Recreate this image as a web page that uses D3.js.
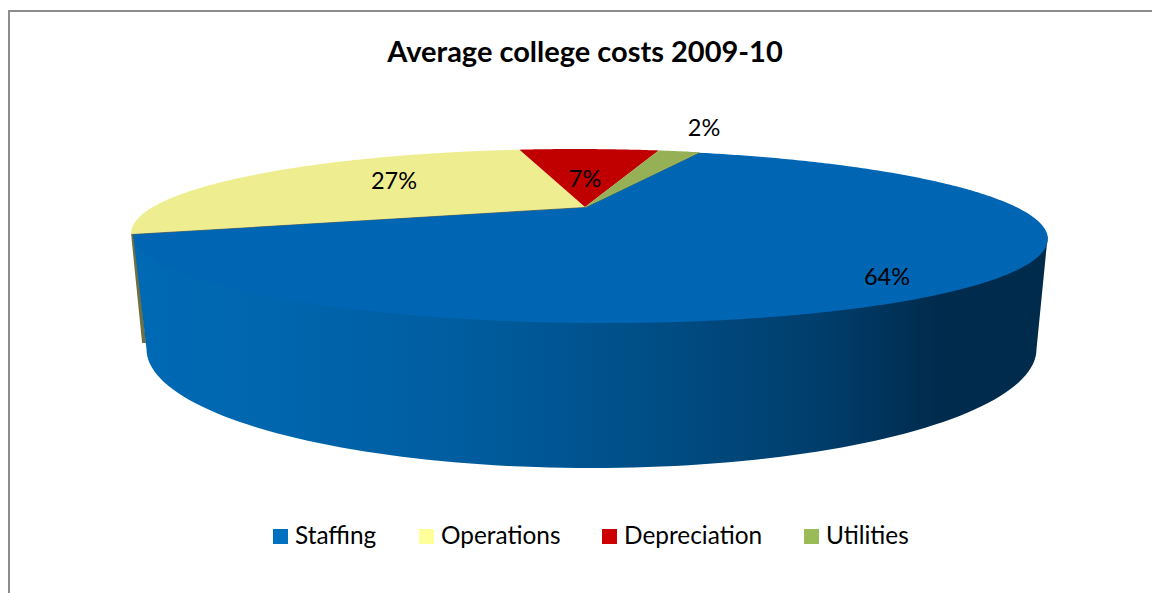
<!DOCTYPE html>
<html><head><meta charset="utf-8">
<script src="https://cdn.jsdelivr.net/npm/d3@7/dist/d3.min.js"></script>
<style>html,body{margin:0;padding:0;background:#fff}svg{display:block}text{font-family:Lato,"Open Sans",sans-serif;fill:#000}</style>
</head><body><svg id="c" width="1152" height="593"></svg>
<script>
const categories = ["Staffing","Operations","Depreciation","Utilities"];
const shares = [63.86,27.3,6.85,1.99];
const topColors = ["#0066b3","#eeee91","#c00000","#96b056"];
const legendColors = ["#0070c0","#ffff99","#cc0000","#9bbb59"];
const cutColors = [null,"#6f6f3f",null,"#6b8a3a"];
const wallStops = [[0,"#0069b5"],[0.15,"#0066ae"],[0.35,"#005da0"],[0.55,"#004f88"],[0.75,"#003e6c"],[0.88,"#002b4d"],[1,"#002b4b"]];
const legendX = [273,419,602,804];
const labelPos = [[887,277],[394,181],[585,179],[704,128]];

const svg = d3.select("#c");
const W=1152,H=593;
svg.append("path").attr("d",`M9,${H} V11 H${W}`).attr("fill","none").attr("stroke","#8c8c8c").attr("stroke-width",2);
svg.append("text").attr("x",585).attr("y",62).attr("text-anchor","middle").attr("font-weight",700).attr("font-size",29).text("Average college costs 2009-10");

const apex={x:585,y:207}, k=1/3, a=432, b=77.3, s=12;
const proj=(t,dx=0,dy=0,r=1)=>{const u=r*Math.sin(t),v=-r*Math.cos(t),w=1-k*v;
  return [apex.x+dx+(a*u+s*v)/w, apex.y+dy+b*v/w];};
const line=d3.line();
const pie=d3.pie().sort(null).value(d=>d).startAngle(21.8*Math.PI/180).endAngle((21.8+360)*Math.PI/180);
const arcs=pie(shares);
const sector=(d,dx=0,dy=0,r=1)=>{const pts=[[apex.x+dx,apex.y+dy]];
  const n=Math.ceil((d.endAngle-d.startAngle)/0.01);
  d3.range(n+1).forEach(i=>pts.push(proj(d.startAngle+(d.endAngle-d.startAngle)*i/n,dx,dy,r)));
  return line(pts)+"Z";};

const defs=svg.append("defs");
const g=defs.append("linearGradient").attr("id","wall").attr("gradientUnits","userSpaceOnUse").attr("x1",133).attr("x2",1048).attr("y1",0).attr("y2",0);
wallStops.forEach(d=>g.append("stop").attr("offset",d[0]).attr("stop-color",d[1]));

const bot={cx:591.5,cy:349,rx:445,ry:119};
const botPt=t=>[bot.cx+bot.rx*Math.sin(t),bot.cy-bot.ry*Math.cos(t)];
const blue=arcs[0];
const tEnd=blue.endAngle;
const BDX=1,BDY=0.5,BR=0.998;
const rimRight=proj(1.91,BDX,BDY,BR);
const rimLeft=proj(tEnd,BDX,BDY,BR);
const rimPts=d3.range(0,101).map(i=>botPt(Math.PI/2+Math.PI*i/100));
const opLeft=proj(tEnd);
svg.append("path").attr("d",line([opLeft,[opLeft[0]+11,343],[opLeft[0]+15,343],[opLeft[0]+3,opLeft[1]+1]])+"Z").attr("fill",cutColors[1]);
svg.append("path").attr("d",line([rimRight,...rimPts,rimLeft])+"Z").attr("fill","url(#wall)");
[1,2,3].forEach(i=>svg.append("path").attr("d",sector(arcs[i])).attr("fill",topColors[i]));
[1,3].forEach(i=>{const ang=i===1?arcs[1].startAngle:arcs[3].endAngle;
  const p=proj(ang);const q=proj(ang,1.5,1.5);
  svg.append("path").attr("d",line([[apex.x,apex.y],p,q,[apex.x+1.5,apex.y+1.5]])+"Z").attr("fill",cutColors[i]);});
svg.append("path").attr("d",sector(arcs[0],BDX,BDY,BR)).attr("fill",topColors[0]);

const fmt=d3.format(".0f");
shares.forEach((d,i)=>svg.append("text").attr("x",labelPos[i][0]).attr("y",labelPos[i][1]+8).attr("text-anchor","middle").attr("font-size",23.5).text(fmt(d)+"%"));
categories.forEach((c,i)=>{
  svg.append("rect").attr("x",legendX[i]).attr("y",529).attr("width",15).attr("height",15).attr("fill",legendColors[i]);
  svg.append("text").attr("x",legendX[i]+22).attr("y",544).attr("font-size",24.4).text(c);
});
</script></body></html>
